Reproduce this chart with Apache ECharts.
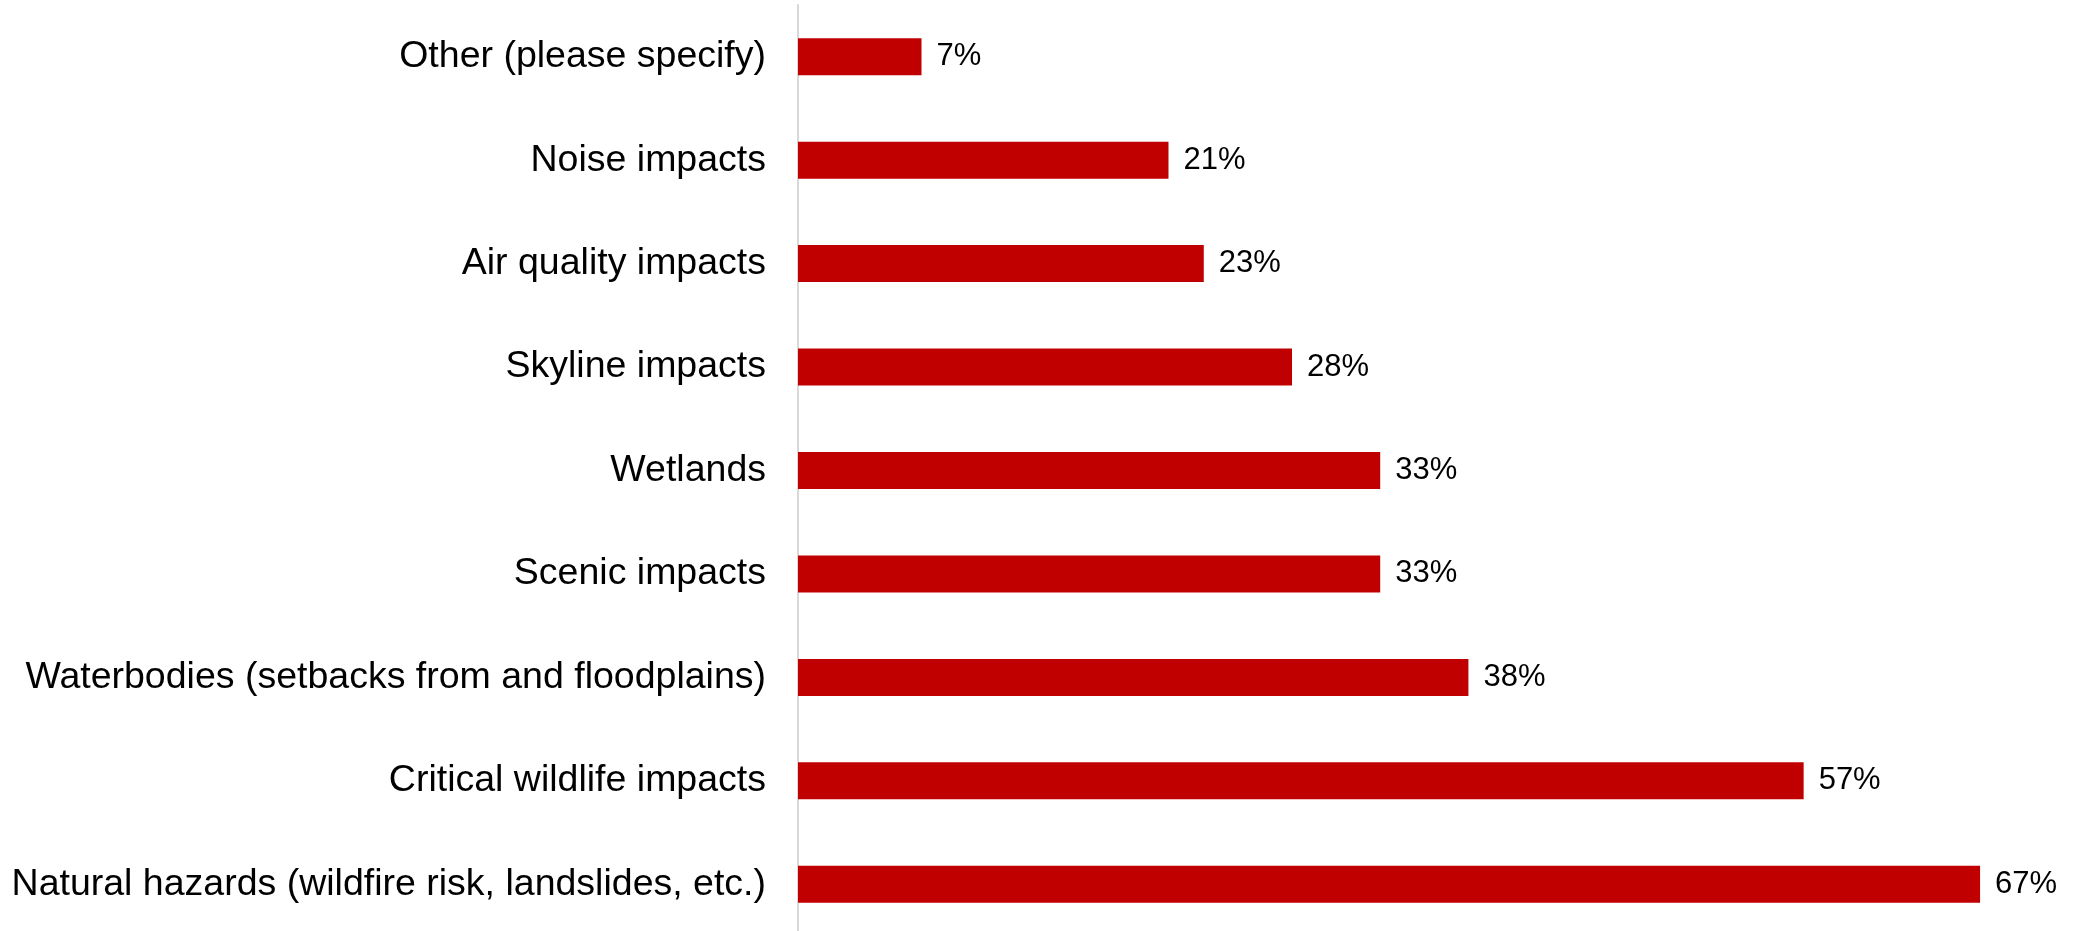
<!DOCTYPE html>
<html>
<head>
<meta charset="utf-8">
<title>Impacts</title>
<script src="https://cdn.jsdelivr.net/npm/echarts@6/dist/echarts.min.js"></script>
<style>
  html, body { margin: 0; padding: 0; background: #fff; }
  #main { width: 2075px; height: 931px; }
</style>
</head>
<body>
<div id="main"></div>
<script>
// categories, top to bottom
var categories = [
    'Other (please specify)',
    'Noise impacts',
    'Air quality impacts',
    'Skyline impacts',
    'Wetlands',
    'Scenic impacts',
    'Waterbodies (setbacks from and floodplains)',
    'Critical wildlife impacts',
    'Natural hazards (wildfire risk, landslides, etc.)'
];
var percents = [7, 21, 23, 28, 33, 33, 38, 57, 67];

var myChart = echarts.init(document.getElementById('main'));

var option = {
    backgroundColor: '#fff',
    animation: false,
    textStyle: { fontFamily: 'Arial, "Liberation Sans", sans-serif' },
    grid: {
        left: 798,
        top: 5,
        width: 1235,
        height: 931,
        containLabel: false,
        outerBoundsMode: 'none'
    },
    xAxis: {
        type: 'value',
        min: 0,
        max: 70,
        show: false
    },
    yAxis: {
        type: 'category',
        inverse: true,
        data: categories,
        axisLine: { show: true, lineStyle: { color: '#d9d9d9', width: 2 } },
        axisTick: { show: false },
        axisLabel: {
            margin: 32,
            color: '#000',
            fontSize: 37.5,
            fontFamily: 'Arial, "Liberation Sans", sans-serif'
        }
    },
    series: [{
        type: 'bar',
        data: percents,
        barWidth: 37,
        itemStyle: { color: '#C00000' },
        label: {
            show: true,
            position: 'right',
            distance: 15,
            color: '#000',
            fontSize: 31,
            fontFamily: 'Arial, "Liberation Sans", sans-serif',
            formatter: function (p) { return p.value + '%'; }
        }
    }]
};

myChart.setOption(option);
</script>
</body>
</html>
